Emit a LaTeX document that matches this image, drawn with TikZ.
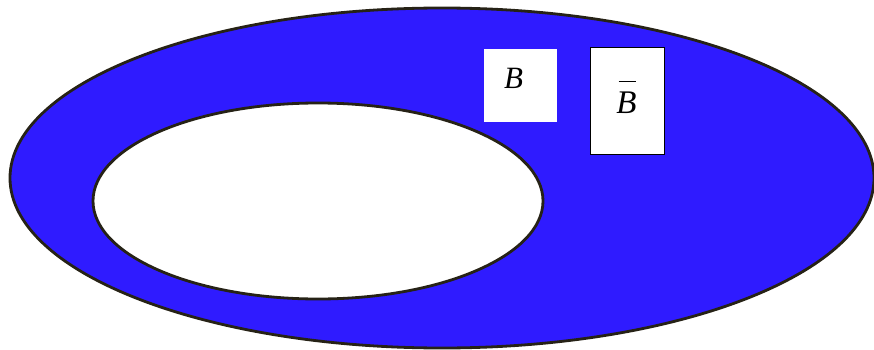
\documentclass[tikz,border=0pt]{standalone}
\usepackage{fontspec}
\setmainfont{Liberation Serif}
\usepackage{tikz}
\usetikzlibrary{positioning,calc}
\definecolor{setblue}{RGB}{47,27,255}
\definecolor{rim}{RGB}{38,34,22}

\begin{document}
\begin{tikzpicture}[x=1pt,y=-1pt]
\tikzset{
  rimline/.style={draw=rim,line width=2.8pt},
  box/.style={fill=white,inner sep=0pt,outer sep=0pt},
  letter/.style={font=\fontsize{31}{31}\selectfont\itshape,inner sep=0pt}
}
\useasboundingbox (0,0) rectangle (874,350);

% universe and inner set
\fill[setblue,rimline] (442,178) ellipse (432 and 170);
\fill[white,rimline] (318,201) ellipse (225 and 98);

% the two labels
\node[box,minimum width=73pt,minimum height=73pt] (bset) at (520.5,85.5) {};
\node[letter] (blab) at ($(bset.center)+(-7,-7)$) {B};

\node[box,draw=black,line width=1.8pt,minimum width=74pt,minimum height=107pt] (bcomp) at (627.5,101) {};
\node[letter,font=\fontsize{33}{33}\selectfont\itshape] (bclab) at ($(bcomp.center)+(-1,2)$) {B};
\draw[black,line width=0.8pt] ($(bclab.north)+(-8,-11)$) -- ($(bclab.north)+(9,-11)$);
\end{tikzpicture}
\end{document}
